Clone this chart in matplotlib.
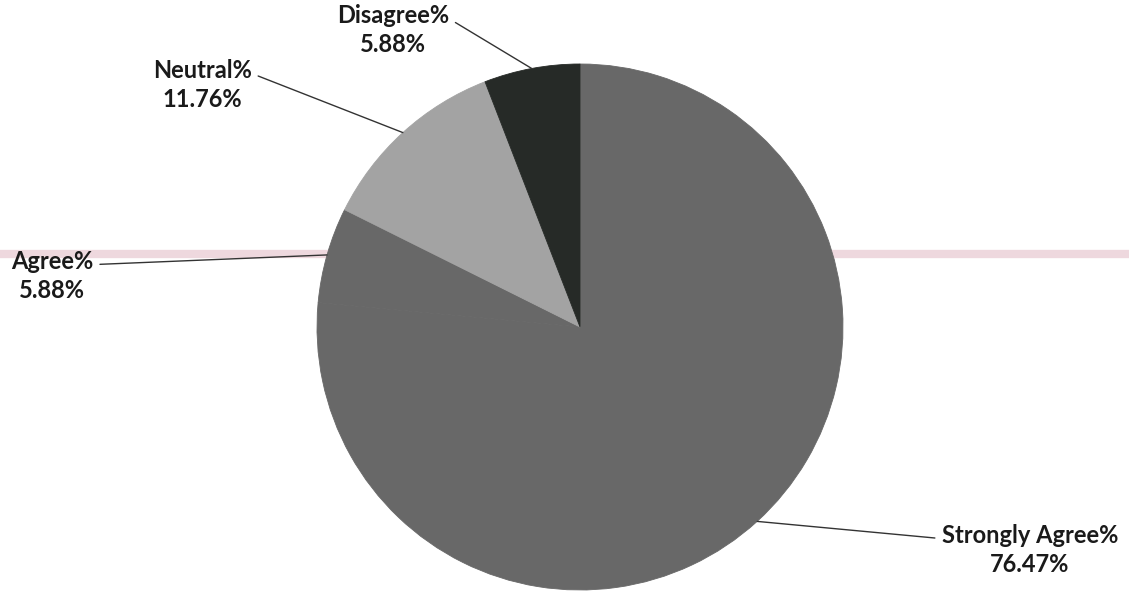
import numpy as np
import matplotlib.pyplot as plt

# Data (clockwise from 12 o'clock)
labels = ['Strongly Agree%', 'Agree%', 'Neutral%', 'Disagree%']
values = [76.47, 5.88, 11.76, 5.88]
colors = ['#686868', '#686868', '#a3a3a3', '#262a27']

# label text positions (data units, pie radius = 1)
text_pos = [(1.711, -0.848), (-2.008, 0.194), (-1.437, 0.921), (-0.711, 1.129)]

fig = plt.figure(figsize=(11.29, 6), dpi=100)
ax = fig.add_axes([0, 0, 1, 1])

# faint scan band behind the pie
ax.axhline((327 - 254) / 263, color='#e8c8d0', lw=6, alpha=0.7, zorder=0)

wedges, _ = ax.pie(values, colors=colors, startangle=90, counterclock=False,
                   radius=1, wedgeprops=dict(linewidth=0.6))
for w, c in zip(wedges, colors):
    w.set_edgecolor(c)

ax.set_xlim(-580 / 263, (1129 - 580) / 263)
ax.set_ylim(-(600 - 327) / 263, 327 / 263)
ax.set_aspect('equal')
ax.axis('off')

for w, lab, val, (tx, ty) in zip(wedges, labels, values, text_pos):
    mid = np.deg2rad((w.theta1 + w.theta2) / 2)
    x0, y0 = np.cos(mid), np.sin(mid)
    ax.annotate(f'{lab}\n{val:.2f}%', xy=(x0, y0), xytext=(tx, ty),
                ha='center', va='center', fontsize=17, fontweight='bold',
                family='Lato', color='#1a1a1a', linespacing=1.3,
                arrowprops=dict(arrowstyle='-', color='#333333', lw=1,
                                shrinkA=3, shrinkB=0,
                                relpos=(1, 0.72) if x0 < 0 else (0, 0.72)))

fig.savefig('out.png', dpi=100)
